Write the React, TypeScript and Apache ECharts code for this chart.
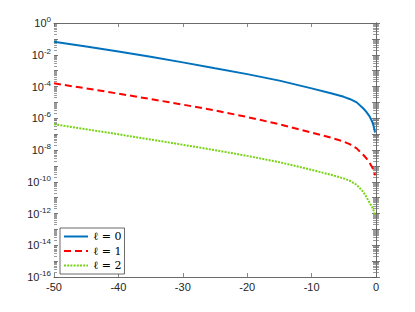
import React, { useEffect, useRef } from "react";
import * as echarts from "echarts";

const xValues = [-50, -45, -40, -35, -30, -25, -20, -15, -10, -7, -5, -4, -3, -2, -1.5, -1, -0.6, -0.4, -0.25, -0.15];
const l0Values = [6.61e-2, 3.31e-2, 1.58e-2, 7.41e-3, 3.31e-3, 1.41e-3, 6.03e-4, 2.34e-4, 7.59e-5, 3.8e-5, 2.24e-5, 1.58e-5, 1.0e-5, 4.27e-6, 2.51e-6, 1.32e-6, 6.31e-7, 3.55e-7, 2.0e-7, 1.26e-7];
const l1Values = [1.58e-4, 7.59e-5, 3.55e-5, 1.62e-5, 7.24e-6, 3.09e-6, 1.2e-6, 4.17e-7, 1.26e-7, 6.03e-8, 3.39e-8, 2.24e-8, 1.26e-8, 5.01e-9, 3.02e-9, 1.58e-9, 8.32e-10, 5.62e-10, 3.8e-10, 2.51e-10];
const l2Values = [4.17e-7, 2.04e-7, 9.77e-8, 4.57e-8, 2.14e-8, 9.77e-9, 4.27e-9, 1.7e-9, 5.62e-10, 2.75e-10, 1.62e-10, 1.12e-10, 6.31e-11, 2.4e-11, 1.12e-11, 4.79e-12, 2.51e-12, 1.66e-12, 1.12e-12, 7.94e-13];
const seriesNames = ["ℓ = 0", "ℓ = 1", "ℓ = 2"];
const xTicks = { min: -50, max: 0, interval: 10 };
const yTicks = { min: 1e-16, max: 1 };

const axisColor = "#6b6b6b";
const textColor = "#262626";

export default function App() {
  const ref = useRef<HTMLDivElement>(null);
  useEffect(() => {
    if (!ref.current) return;
    const chart = echarts.init(ref.current, undefined, { renderer: "svg" });
    const pair = (ys: number[]) => xValues.map((x, i) => [x, ys[i]]);
    const minorTickStyle = { show: true, splitNumber: 9, length: 3, lineStyle: { color: "#707070", width: 0.7 } };
    const yAxisBase = {
      type: "log" as const,
      logBase: 10,
      min: yTicks.min,
      max: yTicks.max,
      interval: 1,
      splitNumber: 16,
      axisLine: { show: true, lineStyle: { color: axisColor, width: 1 } },
      axisTick: { show: true, inside: true, length: 4, lineStyle: { color: "#555", width: 0.8 } },
      splitLine: { show: false },
      minorSplitLine: { show: false },
    };
    const xAxisBase = {
      type: "value" as const,
      min: xTicks.min,
      max: xTicks.max,
      interval: xTicks.interval,
      axisLine: { show: true, onZero: false, lineStyle: { color: axisColor, width: 1 } },
      axisTick: { show: true, inside: true, length: 4, lineStyle: { color: axisColor, width: 0.8 } },
      splitLine: { show: false },
    };
    const lineCommon = {
      type: "line" as const,
      symbol: "none",
      smooth: false,
    };
    chart.setOption({
      animation: false,
      grid: { left: 54, right: 39, top: 23, bottom: 35, containLabel: false },
      xAxis: [
        {
          ...xAxisBase,
          position: "bottom",
          axisLabel: { show: true, color: textColor, fontFamily: "'Liberation Sans', Arial, sans-serif", fontSize: 11, margin: 4 },
        },
        { ...xAxisBase, position: "top", axisLabel: { show: false } },
      ],
      yAxis: [
        {
          ...yAxisBase,
          position: "left",
          minorTick: minorTickStyle,
          axisLabel: {
            show: true,
            margin: 3,
            formatter: (v: number) => {
              const e = Math.round(Math.log10(v));
              if (e % 2 !== 0) return "";
              return `{b|10}{s|${e}}`;
            },
            rich: {
              b: { color: textColor, fontFamily: "'Liberation Sans', Arial, sans-serif", fontSize: 11 },
              s: { color: textColor, fontFamily: "'Liberation Sans', Arial, sans-serif", fontSize: 8, padding: [0, 0, 7, 0] },
            },
          },
        },
        {
          ...yAxisBase,
          position: "right",
          minorTick: minorTickStyle,
          axisLabel: { show: false },
        },
        {
          ...yAxisBase,
          position: "left",
          axisLine: { show: false },
          minorTick: minorTickStyle,
          axisLabel: { show: false },
        },
      ],
      legend: {
        show: true,
        orient: "vertical",
        left: 60,
        top: 228,
        itemWidth: 24,
        itemHeight: 10,
        itemGap: 3.5,
        padding: [3, 3, 3, 3],
        borderColor: "#444",
        borderWidth: 0.8,
        backgroundColor: "#ffffff",
        itemStyle: { opacity: 0 },
        textStyle: { fontFamily: "'DejaVu Serif', 'Liberation Serif', serif", fontSize: 11, color: "#000" },
        data: seriesNames,
      },
      series: [
        {
          ...lineCommon,
          name: seriesNames[0],
          data: pair(l0Values),
          lineStyle: { color: "#0072BD", width: 2 },
          itemStyle: { color: "#0072BD" },
        },
        {
          ...lineCommon,
          name: seriesNames[1],
          data: pair(l1Values),
          lineStyle: { color: "#FF0000", width: 2, type: [7, 4] },
          itemStyle: { color: "#FF0000" },
        },
        {
          ...lineCommon,
          name: seriesNames[2],
          data: pair(l2Values),
          lineStyle: { color: "#77D415", width: 2, type: [2, 1.2] },
          itemStyle: { color: "#77D415" },
        },
      ],
    });
    return () => chart.dispose();
  }, []);
  return (
    <div
      ref={ref}
      style={{ position: "fixed", left: 0, top: 0, width: 415, height: 312, background: "#fff" }}
    />
  );
}
